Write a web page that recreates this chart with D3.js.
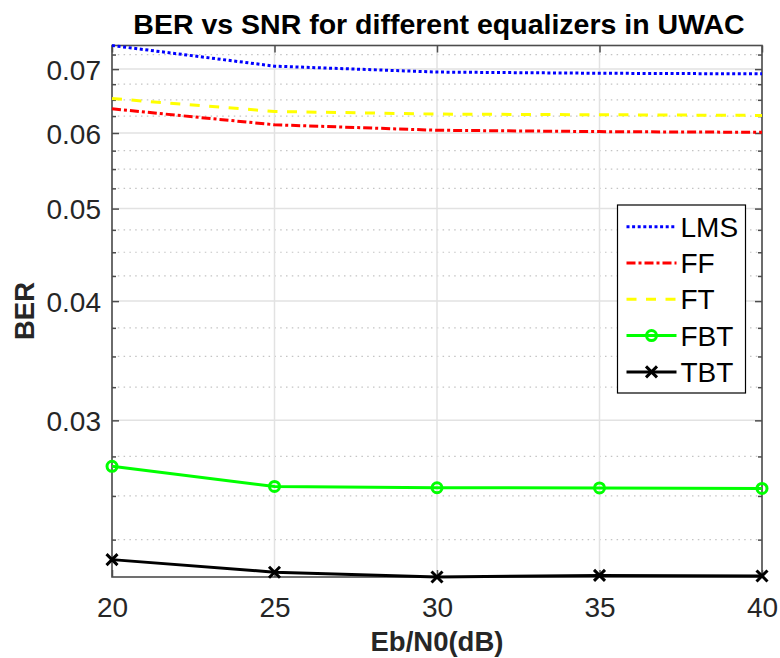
<!DOCTYPE html>
<html>
<head>
<meta charset="utf-8">
<script src="https://cdn.jsdelivr.net/npm/d3@7"></script>
<style>
  body { margin: 0; background: #fff; }
  svg { display: block; font-family: "Liberation Sans", Arial, sans-serif; }
</style>
</head>
<body>
<svg id="chart" width="780" height="658"></svg>
<script>
const snr = [20, 25, 30, 35, 40];
const lms = [0.0741, 0.0705, 0.0695, 0.0693, 0.0692];
const ff = [0.0636, 0.0612, 0.0604, 0.0602, 0.0601];
const ft = [0.0652, 0.0632, 0.0628, 0.0627, 0.0626];
const fbt = [0.02685, 0.02558, 0.02550, 0.02549, 0.02546];
const tbt = [0.02144, 0.02080, 0.02056, 0.02064, 0.02061];

const xTicks = [20, 25, 30, 35, 40];
const yTicks = [0.03, 0.04, 0.05, 0.06, 0.07];
const yMinorStep = 0.0025;

const series = [
  { name: 'LMS', values: lms, color: '#0000ff', dash: '3,2.6', marker: null },
  { name: 'FF', values: ff, color: '#ff0000', dash: '9,3,3,3', marker: null },
  { name: 'FT', values: ft, color: '#ffff00', dash: '10,9.5', marker: null },
  { name: 'FBT', values: fbt, color: '#00ff00', dash: null, marker: 'o' },
  { name: 'TBT', values: tbt, color: '#000000', dash: null, marker: 'x' },
];

const svg = d3.select('#chart');
const m = { l: 112, r: 762, t: 45.5, b: 577 };

const x = d3.scaleLinear().domain(d3.extent(snr)).range([m.l, m.r]);
const y = d3.scaleLog()
  .domain(d3.extent(series.flatMap(s => s.values)))
  .range([m.b, m.t]);

// minor log ticks every 0.0025 inside the domain
const [y0, y1] = y.domain();
const yMinor = d3.range(Math.ceil(y0 / yMinorStep), Math.floor(y1 / yMinorStep) + 1)
  .map(k => +(k * yMinorStep).toFixed(4))
  .filter(v => !yTicks.some(t => Math.abs(t - v) < 1e-6));

// grid
const grid = svg.append('g');
grid.selectAll('line.minor')
  .data(yMinor)
  .enter()
  .append('line')
  .attr('x1', m.l).attr('x2', m.r)
  .attr('y1', d => y(d)).attr('y2', d => y(d))
  .attr('stroke', '#c4c4c4')
  .attr('stroke-width', 1.2)
  .attr('stroke-dasharray', '1.5,4.3');
grid.selectAll('line.ymajor')
  .data(yTicks)
  .enter()
  .append('line')
  .attr('x1', m.l).attr('x2', m.r)
  .attr('y1', d => y(d)).attr('y2', d => y(d))
  .attr('stroke', '#e2e2e2')
  .attr('stroke-width', 1.5);
grid.selectAll('line.xmajor')
  .data(xTicks)
  .enter()
  .append('line')
  .attr('x1', d => x(d)).attr('x2', d => x(d))
  .attr('y1', m.t).attr('y2', m.b)
  .attr('stroke', '#e2e2e2')
  .attr('stroke-width', 1.5);

// axes
const axisColor = '#4d4d4d';
const tickFont = 28;

const gx = svg.append('g')
  .attr('transform', `translate(0,${m.b})`)
  .call(d3.axisBottom(x).tickValues(xTicks).tickSizeInner(-7).tickSizeOuter(0).tickPadding(20));
const gxTop = svg.append('g')
  .attr('transform', `translate(0,${m.t})`)
  .call(d3.axisTop(x).tickValues(xTicks).tickSizeInner(-7).tickSizeOuter(0).tickFormat(''));
const gy = svg.append('g')
  .attr('transform', `translate(${m.l},0)`)
  .call(d3.axisLeft(y).tickValues(yTicks).tickFormat(d3.format('.2f'))
    .tickSizeInner(-7).tickSizeOuter(0).tickPadding(11));
const gyRight = svg.append('g')
  .attr('transform', `translate(${m.r},0)`)
  .call(d3.axisRight(y).tickValues(yTicks).tickSizeInner(-7).tickSizeOuter(0).tickFormat(''));
const gyMinL = svg.append('g')
  .attr('transform', `translate(${m.l},0)`)
  .call(d3.axisLeft(y).tickValues(yMinor).tickSizeInner(-4).tickSizeOuter(0).tickFormat(''));
const gyMinR = svg.append('g')
  .attr('transform', `translate(${m.r},0)`)
  .call(d3.axisRight(y).tickValues(yMinor).tickSizeInner(-4).tickSizeOuter(0).tickFormat(''));

[gx, gxTop, gy, gyRight, gyMinL, gyMinR].forEach(g => {
  g.select('.domain').remove();
  g.selectAll('line').attr('stroke', axisColor).attr('stroke-width', 1.5);
  g.selectAll('text')
    .attr('fill', '#262626')
    .style('font-size', tickFont + 'px')
    .style('font-family', '"Liberation Sans", Arial, sans-serif');
});
gy.selectAll('text').attr('dy', '0.36em');

svg.append('rect')
  .attr('x', m.l).attr('y', m.t)
  .attr('width', m.r - m.l).attr('height', m.b - m.t)
  .attr('fill', 'none')
  .attr('stroke', axisColor)
  .attr('stroke-width', 1.6);

// series
const line = d3.line().x((d, i) => x(snr[i])).y(d => y(d));

function drawMarker(g, type, cx, cy, color) {
  if (type === 'o') {
    g.append('circle')
      .attr('cx', cx).attr('cy', cy).attr('r', 5)
      .attr('fill', 'none').attr('stroke', color).attr('stroke-width', 3);
  } else if (type === 'x') {
    const s = 5.5;
    g.append('path')
      .attr('d', `M${cx - s},${cy - s}L${cx + s},${cy + s}M${cx - s},${cy + s}L${cx + s},${cy - s}`)
      .attr('stroke', color).attr('stroke-width', 3).attr('fill', 'none');
  }
}

const plot = svg.append('g');
series.forEach(s => {
  plot.append('path')
    .datum(s.values)
    .attr('d', line)
    .attr('fill', 'none')
    .attr('stroke', s.color)
    .attr('stroke-width', 3)
    .attr('stroke-dasharray', s.dash);
  if (s.marker) {
    s.values.forEach((v, i) => drawMarker(plot, s.marker, x(snr[i]), y(v), s.color));
  }
});

// legend
const lg = { x: 617.5, y: 205, w: 128, h: 188, row: 36.3, first: 21.7 };
const legend = svg.append('g');
legend.append('rect')
  .attr('x', lg.x).attr('y', lg.y)
  .attr('width', lg.w).attr('height', lg.h)
  .attr('fill', '#fff')
  .attr('stroke', '#000')
  .attr('stroke-width', 1.2);
series.forEach((s, i) => {
  const ly = lg.y + lg.first + i * lg.row;
  legend.append('line')
    .attr('x1', lg.x + 9).attr('x2', lg.x + 59)
    .attr('y1', ly).attr('y2', ly)
    .attr('stroke', s.color)
    .attr('stroke-width', 3)
    .attr('stroke-dasharray', s.dash);
  if (s.marker) drawMarker(legend, s.marker, lg.x + 34, ly, s.color);
  legend.append('text')
    .attr('x', lg.x + 63).attr('y', ly)
    .attr('dy', '0.36em')
    .attr('fill', '#000')
    .style('font-size', '28px')
    .text(s.name);
});

// titles
svg.append('text')
  .attr('x', (m.l + m.r) / 2 + 2).attr('y', 34)
  .attr('text-anchor', 'middle')
  .style('font-size', '28.5px')
  .style('font-weight', 'bold')
  .attr('fill', '#000')
  .text('BER vs SNR for different equalizers in UWAC');

svg.append('text')
  .attr('x', (m.l + m.r) / 2).attr('y', 651)
  .attr('text-anchor', 'middle')
  .style('font-size', '27.5px')
  .style('font-weight', 'bold')
  .attr('fill', '#262626')
  .text('Eb/N0(dB)');

svg.append('text')
  .attr('transform', `translate(34,${311}) rotate(-90)`)
  .attr('text-anchor', 'middle')
  .style('font-size', '27.5px')
  .style('font-weight', 'bold')
  .attr('fill', '#262626')
  .text('BER');
</script>
</body>
</html>
